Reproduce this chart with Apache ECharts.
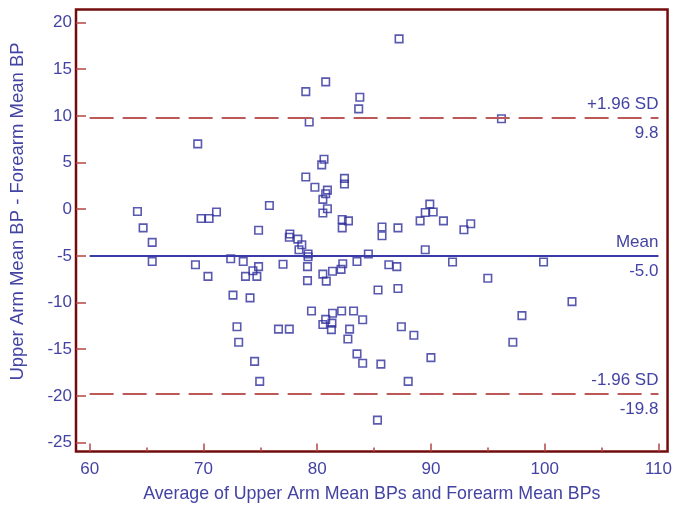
<!DOCTYPE html>
<html><head><meta charset="utf-8">
<script src="https://cdn.jsdelivr.net/npm/echarts@6/dist/echarts.min.js"></script>
<style>html,body{margin:0;padding:0;background:#fff}#c{width:675px;height:511px}</style>
</head><body><div id="c"></div>
<script>
// Average of the two methods (x) and their difference (y)
const avgBP = [79.0,80.75,83.75,83.65,79.3,69.5,80.6,80.4,79.0,82.4,82.4,79.8,80.9,80.75,80.5,80.9,80.5,75.8,64.2,64.7,69.8,70.5,71.15,74.85,77.6,77.55,78.3,82.2,82.75,82.2,65.5,87.2,96.2,85.7,85.7,87.1,89.05,89.9,89.5,90.2,91.1,92.9,93.5,65.5,69.3,70.4,72.4,73.5,74.85,74.35,73.7,74.7,77.0,72.6,74.1,78.65,78.4,79.2,79.2,79.15,79.15,80.5,80.8,81.35,82.1,82.25,83.5,84.5,85.35,79.5,80.75,80.5,81.25,81.35,82.15,83.2,84.0,82.85,82.7,72.95,73.1,76.6,77.55,74.5,74.95,83.5,84.0,85.3,85.6,89.5,86.3,87.0,91.9,99.9,95.0,87.1,102.4,98.0,87.4,88.5,97.2,90.0,88.0,81.3];
const diffBP = [12.6,13.65,12.0,10.75,9.35,7.0,5.35,4.75,3.45,3.3,2.7,2.35,2.05,1.65,1.05,0.05,-0.4,0.4,-0.25,-2.0,-1.0,-1.0,-0.3,-2.25,-2.65,-3.0,-3.2,-1.1,-1.25,-2.0,-3.55,18.25,9.7,-1.9,-2.85,-2.0,-1.25,0.55,-0.35,-0.3,-1.25,-2.2,-1.55,-5.6,-5.95,-7.2,-5.3,-5.6,-6.15,-6.6,-7.2,-7.2,-5.9,-9.2,-9.5,-3.8,-4.35,-4.8,-5.1,-6.15,-7.65,-6.95,-7.7,-6.65,-6.45,-5.85,-5.6,-4.8,-8.65,-10.9,-11.8,-12.35,-12.9,-11.15,-10.9,-10.9,-11.85,-12.85,-13.9,-12.6,-14.25,-12.85,-12.85,-16.3,-18.45,-15.5,-16.5,-22.6,-16.6,-4.35,-5.95,-6.15,-5.65,-5.65,-7.4,-8.5,-9.9,-11.4,-12.6,-13.5,-14.25,-15.9,-18.45,-12.2];
const xTicks = [60,70,80,90,100,110];
const xMinorTicks = [65,75,85,95,105];
const yTicks = [-25,-20,-15,-10,-5,0,5,10,15,20];
const meanDiff = -5.0, upperLoA = 9.8, lowerLoA = -19.8;
const lineStart = 60, lineEnd = 110;

const TXT = '#4343a3', FRAME = '#730d0d', TICK = '#b24545', DASH = '#bd5858', BLUE = '#3a3aa8', MARK = '#2f2f9c';
const FONT = 'Liberation Sans';
const pts = avgBP.map((x,i)=>[x,diffBP[i]]);
const lblStyle = {show:true, color:TXT, fontSize:17, fontFamily:FONT};

function refLine(y, color, type, topText, bottomText) {
  return [
    [{coord:[lineStart,y], lineStyle:{color:color,width:2.2,type:type},
      label:Object.assign({position:'insideEndTop', formatter:topText, distance:[0,5]}, lblStyle)},
     {coord:[lineEnd,y]}],
    [{coord:[lineStart,y], lineStyle:{color:'rgba(255,255,255,0)', width:0.01},
      label:Object.assign({position:'insideEndBottom', formatter:bottomText, distance:[0,7]}, lblStyle)},
     {coord:[lineEnd,y]}]
  ];
}

const chart = echarts.init(document.getElementById('c'));
chart.setOption({
  animation:false,
  backgroundColor:'#fff',
  grid:{left:76, right:4.5, top:9.5, bottom:59.5, show:true, borderColor:FRAME, borderWidth:2.5, backgroundColor:'#fff'},
  xAxis:[{
    type:'value', min:58.8, max:110.8,
    axisLine:{show:false, onZero:false}, splitLine:{show:false},
    axisTick:{inside:true, length:8, customValues:xTicks, lineStyle:{color:TICK,width:1.5}},
    axisLabel:{customValues:xTicks, color:TXT, fontSize:17, fontFamily:FONT, margin:9},
    name:'Average of Upper Arm Mean BPs and Forearm Mean BPs', nameLocation:'middle', nameGap:34,
    nameTextStyle:{color:TXT, fontSize:17.8, fontFamily:FONT}
  },{
    type:'value', min:58.8, max:110.8, position:'bottom',
    axisLine:{show:false, onZero:false}, splitLine:{show:false}, axisLabel:{show:false},
    axisTick:{inside:true, length:4, customValues:xMinorTicks, lineStyle:{color:TICK,width:1.5}}
  }],
  yAxis:{
    type:'value', min:-25.96, max:21.4,
    axisLine:{show:false, onZero:false}, splitLine:{show:false},
    axisTick:{inside:true, length:10, customValues:yTicks, lineStyle:{color:TICK,width:1.5}},
    axisLabel:{customValues:yTicks, color:TXT, fontSize:17, fontFamily:FONT, margin:4},
    name:'Upper Arm Mean BP - Forearm Mean BP', nameLocation:'middle', nameGap:49, nameRotate:90,
    nameTextStyle:{color:TXT, fontSize:18.5, fontFamily:FONT, padding:[0,0,0,38]}
  },
  series:[{
    type:'scatter', data:pts, symbol:'rect', symbolSize:7.5,
    itemStyle:{color:'rgba(0,0,0,0)', borderColor:MARK, borderWidth:1.6},
    markLine:{
      silent:true, symbol:'none', animation:false,
      data:[].concat(
        refLine(upperLoA, DASH, [24,9], '+1.96 SD', upperLoA.toFixed(1)),
        refLine(meanDiff, BLUE, 'solid', 'Mean', meanDiff.toFixed(1)),
        refLine(lowerLoA, DASH, [24,9], '-1.96 SD', lowerLoA.toFixed(1))
      )
    }
  }]
});
</script></body></html>
